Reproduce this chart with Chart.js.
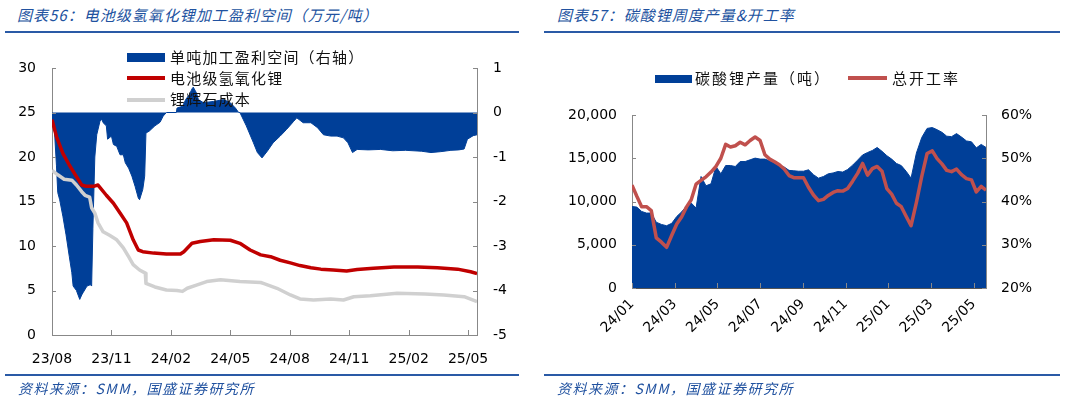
<!DOCTYPE html>
<html>
<head>
<meta charset="utf-8">
<script src="https://cdn.jsdelivr.net/npm/chart.js@4.4.1/dist/chart.umd.min.js"></script>
<style>
  html, body { margin: 0; padding: 0; background: #fff; }
  body { width: 1065px; height: 399px; position: relative; overflow: hidden; font-family: "Noto Sans CJK SC", sans-serif; }
  .title, .source { position: absolute; color: #2152a0; font-style: italic; white-space: nowrap; }
  .title { top: 4px; font-size: 15px; letter-spacing: 1px; }
  .source { top: 378px; font-size: 14px; letter-spacing: 1.5px; }
  .rule { position: absolute; height: 2px; background: #2a5aa6; }
  canvas { position: absolute; top: 40px; }
  .leg { position: absolute; font-size: 15px; line-height: 20px; color: #111; white-space: nowrap; letter-spacing: 1.2px; }
  .sw { position: absolute; }
</style>
</head>
<body>
<div class="title" style="left:17px">图表56：电池级氢氧化锂加工盈利空间（万元/吨）</div>
<div class="title" style="left:557px">图表57：碳酸锂周度产量&amp;开工率</div>
<div class="rule" style="left:5px; top:31px; width:514px"></div>
<div class="rule" style="left:544px; top:31px; width:516px"></div>

<canvas id="spreadChart" width="530" height="340" style="left:0"></canvas>
<canvas id="outputChart" width="530" height="330" style="left:535px"></canvas>

<div class="sw" style="left:127px; top:53px; width:38px; height:9px; background:#003f98"></div>
<div class="leg" style="left:170px; top:47px">单吨加工盈利空间（右轴）</div>
<div class="sw" style="left:127px; top:76px; width:38px; height:4px; background:#c00000"></div>
<div class="leg" style="left:170px; top:68px">电池级氢氧化锂</div>
<div class="sw" style="left:127px; top:98px; width:38px; height:4px; background:#d0d0d0"></div>
<div class="leg" style="left:170px; top:89px">锂辉石成本</div>

<div class="sw" style="left:655px; top:75px; width:37px; height:8px; background:#003f98"></div>
<div class="leg" style="left:695px; top:68px; letter-spacing:2px">碳酸锂产量（吨）</div>
<div class="sw" style="left:848px; top:76px; width:39px; height:4px; background:#c0504d"></div>
<div class="leg" style="left:892px; top:68px; letter-spacing:2px">总开工率</div>

<div class="rule" style="left:5px; top:374px; width:514px"></div>
<div class="rule" style="left:544px; top:374px; width:516px"></div>
<div class="source" style="left:18px">资料来源：SMM，国盛证券研究所</div>
<div class="source" style="left:557px">资料来源：SMM，国盛证券研究所</div>

<script>
// left chart: LiOH processing margin (right axis) and prices (left axis), wan yuan / t
const spreadDates = [
  '2023-08-01','2023-08-02','2023-08-05','2023-08-08','2023-08-10','2023-08-13','2023-08-18','2023-08-23','2023-08-28','2023-09-01',
  '2023-09-03','2023-09-08','2023-09-13','2023-09-16','2023-09-18','2023-09-24','2023-09-29','2023-10-01','2023-10-03','2023-10-06',
  '2023-10-09','2023-10-14','2023-10-17','2023-10-19','2023-10-24','2023-10-26','2023-11-01','2023-11-04','2023-11-09','2023-11-14',
  '2023-11-19','2023-11-22','2023-11-27','2023-12-02','2023-12-07','2023-12-12','2023-12-14','2023-12-19','2023-12-22','2023-12-24',
  '2023-12-29','2024-01-07','2024-01-15','2024-01-20','2024-01-25','2024-02-09','2024-02-10','2024-02-18','2024-02-23','2024-02-28',
  '2024-03-03','2024-03-05','2024-03-10','2024-03-13','2024-03-21','2024-04-06','2024-04-21','2024-05-01','2024-05-09','2024-05-14',
  '2024-05-16','2024-05-26','2024-06-06','2024-06-12','2024-06-19','2024-06-27','2024-07-06','2024-07-17','2024-07-27','2024-08-07',
  '2024-08-12','2024-08-22','2024-09-03','2024-09-13','2024-09-22','2024-10-03','2024-10-13','2024-10-23','2024-10-30','2024-11-06',
  '2024-11-13','2024-11-30','2024-12-19','2025-01-07','2025-01-27','2025-02-19','2025-03-05','2025-03-20','2025-04-05','2025-04-17',
  '2025-04-25','2025-04-30','2025-05-09','2025-05-15'
];
const spreadValues = [
  -0.2, -0.27, -0.45, -1.2, -1.8, -1.96, -2.33, -2.75, -3.23, -3.6,
  -3.9, -4.0, -4.2, -4.1, -4.05, -3.9, -3.87, -3.9, -2.6, -1.0,
  -0.5, -0.2, -0.15, -0.23, -0.3, -0.6, -0.53, -0.72, -0.76, -0.95,
  -0.95, -1.13, -1.25, -1.43, -1.66, -1.92, -1.96, -1.73, -1.43, -0.46,
  -0.42, -0.3, -0.22, -0.08, 0, 0, 0.1, 0.14, 0.3, 0.4,
  0.53, 0.57, 0.44, 0.29, 0.22, 0.25, 0.29, 0.22, 0.1, 0,
  0, -0.3, -0.68, -0.9, -1.02, -0.87, -0.68, -0.53, -0.38, -0.2,
  -0.12, -0.23, -0.23, -0.34, -0.5, -0.53, -0.53, -0.57, -0.68, -0.9,
  -0.83, -0.84, -0.83, -0.86, -0.85, -0.87, -0.9, -0.88, -0.85, -0.84,
  -0.82, -0.6, -0.52, -0.5
];
const liohDates = [
  '2023-08-01','2023-08-08','2023-08-18','2023-08-28','2023-09-08','2023-09-16','2023-09-23','2023-10-04','2023-10-11','2023-10-24',
  '2023-11-04','2023-11-14','2023-11-24','2023-12-04','2023-12-12','2023-12-19','2024-01-05','2024-01-25','2024-02-15','2024-02-20',
  '2024-03-03','2024-03-16','2024-04-06','2024-05-01','2024-05-16','2024-06-01','2024-06-17','2024-07-02','2024-07-17','2024-08-02',
  '2024-08-17','2024-09-03','2024-09-18','2024-10-07','2024-10-28','2024-11-13','2024-12-08','2025-01-09','2025-02-14','2025-03-15',
  '2025-04-15','2025-05-05','2025-05-15'
];
const liohPrice = [
  24.2, 22.3, 20.4, 19.1, 17.8, 16.85, 16.7, 16.7, 16.85, 15.7,
  14.8, 13.7, 12.6, 10.7, 9.55, 9.36, 9.2, 9.1, 9.1, 9.36,
  10.3, 10.5, 10.7, 10.65, 10.3, 9.55, 9.0, 8.8, 8.4, 8.1,
  7.8, 7.55, 7.4, 7.3, 7.2, 7.35, 7.5, 7.65, 7.65, 7.55,
  7.4, 7.1, 6.9
];
const spodDates = [
  '2023-08-01','2023-08-10','2023-08-20','2023-09-01','2023-09-08','2023-09-16','2023-09-21','2023-09-28','2023-10-01','2023-10-06',
  '2023-10-11','2023-10-19','2023-10-29','2023-11-09','2023-11-19','2023-11-27','2023-12-04','2023-12-14','2023-12-23','2023-12-24',
  '2024-01-07','2024-01-25','2024-02-10','2024-02-18','2024-02-25','2024-03-10','2024-03-26','2024-04-16','2024-05-16','2024-06-17',
  '2024-06-21','2024-07-12','2024-08-02','2024-08-17','2024-09-07','2024-10-03','2024-10-23','2024-11-08','2024-12-03','2025-01-14',
  '2025-02-24','2025-03-25','2025-04-25','2025-05-15'
];
const spodCost = [
  18.5, 18.0, 17.5, 17.4, 16.85, 16.1, 15.7, 15.5, 14.3, 13.7,
  12.6, 11.6, 11.2, 10.7, 9.8, 8.8, 7.9, 7.3, 6.95, 5.8,
  5.4, 5.05, 5.0, 4.9, 5.25, 5.6, 6.0, 6.2, 6.0, 5.9,
  5.8, 5.25, 4.5, 4.05, 3.93, 4.05, 3.93, 4.3, 4.4, 4.7,
  4.6, 4.5, 4.3, 3.75
];
const spreadTickLabels = ['23/08', '23/11', '24/02', '24/05', '24/08', '24/11', '25/02', '25/05'];

// right chart: weekly Li2CO3 output (t) and utilisation rate (%)
const firstWeek = '2024-01-01';
const production = [
  9425, 9350, 8850, 8660, 8660, 7600, 7350, 7200, 7480, 8270,
  8800, 9450, 9820, 9240, 12890, 11815, 12045, 14045, 13200, 14160,
  14160, 14045, 14620, 14620, 14820, 15015, 14900, 14900, 14700, 14450,
  14100, 13980, 13600, 13550, 13500, 13500, 13665, 13100, 12700, 12890,
  13200, 13300, 13470, 13400, 13700, 14200, 14780, 15380, 15660, 15900,
  16250, 15800, 15300, 14900, 14400, 14150, 13500, 12700, 15600, 17400,
  18450, 18550, 18300, 18000, 17550, 17500, 17850, 17450, 17000, 16900,
  16200, 16600, 16250
];
const utilisation = [
  43.8, 41.2, 38.8, 38.8, 37.9, 31.6, 30.6, 29.4, 32.2, 34.8,
  36.4, 38.7, 40.4, 44.0, 44.9, 45.7, 46.8, 48.1, 50.0, 53.2,
  52.6, 52.9, 53.7, 53.1, 54.1, 54.9, 54.1, 50.8, 49.8, 49.2,
  48.5, 47.5, 46.0, 45.5, 45.5, 45.5, 43.3, 41.5, 40.2, 40.5,
  41.4, 42.1, 42.5, 42.4, 43.0, 44.7, 46.5, 48.8, 46.1, 47.6,
  48.1, 47.0, 43.0, 41.7, 39.6, 38.8, 36.6, 34.4, 39.8, 45.8,
  51.1, 51.7, 49.9, 48.7, 47.2, 46.9, 47.5, 46.2, 45.3, 45.0,
  42.2, 43.5, 42.6
];
const outputTickLabels = ['24/01', '24/03', '24/05', '24/07', '24/09', '24/11', '25/01', '25/03', '25/05'];

// months since a start month, with the day as a fraction
function monthPos(s, y0, m0) {
    const [y, m, d] = s.split('-').map(Number);
    const dim = new Date(y, m, 0).getDate();
    return (y - y0) * 12 + (m - m0) + (d - 1) / dim;
}
const pts = (dates, vals, y0, m0) => dates.map((d, i) => ({ x: monthPos(d, y0, m0), y: vals[i] }));

const weeks = production.map((_, i) => {
    const d = new Date(firstWeek + 'T00:00:00Z');
    d.setUTCDate(d.getUTCDate() + 7 * i);
    return d.toISOString().slice(0, 10);
});

// tick marks pointing into the plot, as in the Excel original
const innerTicks = {
    id: 'innerTicks',
    afterDatasetsDraw(chart, args, opts) {
        const { ctx, chartArea: a } = chart;
        ctx.save();
        ctx.strokeStyle = opts.color || '#888';
        ctx.lineWidth = 1;
        Object.values(chart.scales).forEach(scale => {
            const len = opts[scale.id];
            if (!len) return;
            scale.ticks.forEach(t => {
                const p = Math.round(scale.getPixelForValue(t.value)) + 0.5;
                ctx.beginPath();
                if (scale.axis === 'x') { ctx.moveTo(p, a.bottom); ctx.lineTo(p, a.bottom - len); }
                else if (scale.position === 'left') { ctx.moveTo(a.left, p); ctx.lineTo(a.left + len, p); }
                else { ctx.moveTo(a.right, p); ctx.lineTo(a.right - len, p); }
                ctx.stroke();
            });
        });
        ctx.restore();
    }
};

Chart.defaults.font.family = '"DejaVu Sans", sans-serif';
Chart.defaults.font.size = 14;
Chart.defaults.color = '#000';

const axisGrid = { display: true, drawOnChartArea: false, drawTicks: false };

new Chart(document.getElementById('spreadChart'), {
    type: 'line',
    data: {
        datasets: [
            {
                label: '单吨加工盈利空间（右轴）',
                data: pts(spreadDates, spreadValues, 2023, 8),
                yAxisID: 'y2',
                fill: 'origin',
                backgroundColor: '#003f98',
                borderColor: '#003f98',
                borderWidth: 1,
                pointRadius: 0,
                order: 3
            },
            {
                label: '电池级氢氧化锂',
                data: pts(liohDates, liohPrice, 2023, 8),
                yAxisID: 'y',
                borderColor: '#c00000',
                borderWidth: 3.5,
                borderJoinStyle: 'round',
                pointRadius: 0,
                order: 1
            },
            {
                label: '锂辉石成本',
                data: pts(spodDates, spodCost, 2023, 8),
                yAxisID: 'y',
                borderColor: '#d0d0d0',
                borderWidth: 3.5,
                borderJoinStyle: 'round',
                pointRadius: 0,
                order: 2
            }
        ]
    },
    options: {
        responsive: false,
        animation: false,
        layout: { autoPadding: false, padding: { top: 28, left: 0, right: 0, bottom: 0 } },
        plugins: {
            legend: { display: false },
            tooltip: { enabled: false },
            innerTicks: { x: 5, y: 4, y2: 4, color: '#888' }
        },
        scales: {
            x: {
                type: 'linear',
                min: 0,
                max: 21.45,
                afterBuildTicks: s => { s.ticks = spreadTickLabels.map((l, i) => ({ value: i * 3 })); },
                afterFit: s => { s.height = 45; },
                ticks: { padding: 16, maxRotation: 0, autoSkip: false, callback: (v, i) => spreadTickLabels[i] },
                grid: axisGrid,
                border: { color: '#888' }
            },
            y: {
                position: 'left',
                min: 0,
                max: 30,
                afterFit: s => { s.width = 52; },
                ticks: { stepSize: 5, padding: 16 },
                grid: axisGrid,
                border: { color: '#888' }
            },
            y2: {
                position: 'right',
                min: -5,
                max: 1,
                afterFit: s => { s.width = 53; },
                ticks: { stepSize: 1, padding: 16, callback: v => String(v) },
                grid: axisGrid,
                border: { color: '#888' }
            }
        }
    },
    plugins: [innerTicks]
});

new Chart(document.getElementById('outputChart'), {
    type: 'line',
    data: {
        datasets: [
            {
                label: '碳酸锂产量（吨）',
                data: pts(weeks, production, 2024, 1),
                yAxisID: 'y',
                fill: 'origin',
                backgroundColor: '#003f98',
                borderColor: '#003f98',
                borderWidth: 1,
                pointRadius: 0,
                order: 2
            },
            {
                label: '总开工率',
                data: pts(weeks, utilisation, 2024, 1),
                yAxisID: 'y2',
                borderColor: '#c0504d',
                borderWidth: 3.5,
                borderJoinStyle: 'round',
                pointRadius: 0,
                order: 1
            }
        ]
    },
    options: {
        responsive: false,
        animation: false,
        layout: { autoPadding: false, padding: { top: 75, left: 0, right: 0, bottom: 0 } },
        plugins: {
            legend: { display: false },
            tooltip: { enabled: false },
            innerTicks: { x: 5, y: 4, y2: 4, color: '#888' }
        },
        scales: {
            x: {
                type: 'linear',
                min: 0,
                max: monthPos(weeks[weeks.length - 1], 2024, 1),
                afterBuildTicks: s => { s.ticks = outputTickLabels.map((l, i) => ({ value: i * 2 })); },
                afterFit: s => { s.height = 82; },
                ticks: { padding: 8, minRotation: 45, maxRotation: 45, autoSkip: false, callback: (v, i) => outputTickLabels[i] },
                grid: axisGrid,
                border: { color: '#555' }
            },
            y: {
                position: 'left',
                min: 0,
                max: 20000,
                afterFit: s => { s.width = 97; },
                ticks: { stepSize: 5000, padding: 15, callback: v => v.toLocaleString('en-US') },
                grid: axisGrid,
                border: { color: '#888' }
            },
            y2: {
                position: 'right',
                min: 20,
                max: 60,
                afterFit: s => { s.width = 79; },
                ticks: { stepSize: 10, padding: 15, callback: v => v + '%' },
                grid: axisGrid,
                border: { color: '#888' }
            }
        }
    },
    plugins: [innerTicks]
});
</script>
</body>
</html>
